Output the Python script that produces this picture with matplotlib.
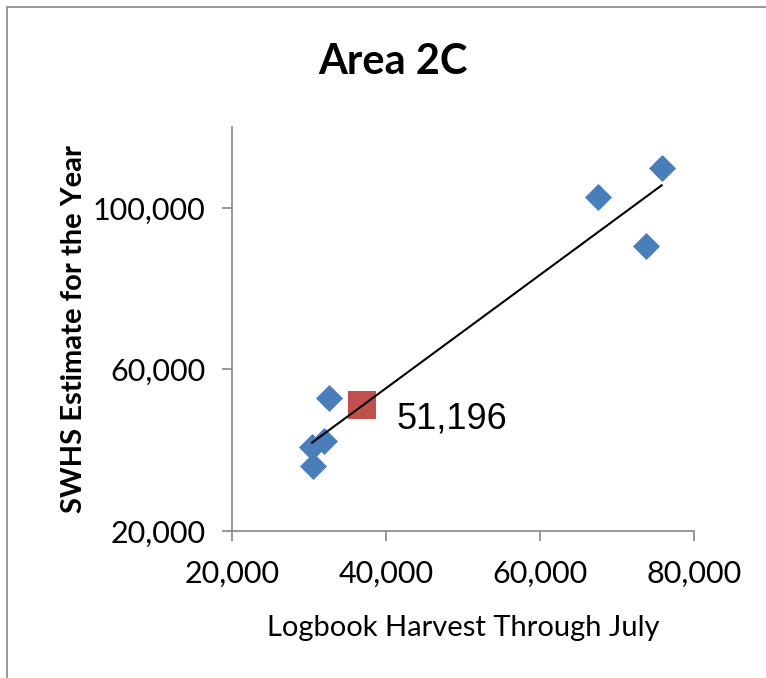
import matplotlib
matplotlib.use("Agg")
import matplotlib.pyplot as plt
import matplotlib.ticker as ticker
import numpy as np

# logbook harvest through July vs. SWHS estimate, Area 2C
harvest = [75800, 67500, 73800, 32600, 31900, 30400, 30500]
swhs = [109800, 102700, 90500, 52900, 42300, 40800, 36100]
predict_x = 36900
predict_y = 51196

fig = plt.figure(figsize=(7.66, 6.78), dpi=100)
ax = fig.add_axes([0.3029, 0.2168, 0.6031, 0.5959])

# outer chart border
fig.patches.append(plt.Rectangle((7 / 766, -0.1), 1.2, 1 - 7 / 678 + 0.1,
                                 transform=fig.transFigure, fill=False,
                                 edgecolor="#868686", linewidth=1.2))

ax.scatter(harvest, swhs, marker="D", s=190, color="#4A7EBB", zorder=3,
           linewidths=0)

slope, intercept = np.polyfit(harvest, swhs, 1)
xs = np.array([min(harvest), max(harvest)])
ax.plot(xs, slope * xs + intercept, color="black", linewidth=1.5, zorder=4)

ax.scatter([predict_x], [predict_y], marker="s", s=380, color="#C0504D",
           zorder=3, linewidths=0)
ax.annotate(f"{predict_y:,}", (predict_x, predict_y), xytext=(25, -10),
            textcoords="offset points", fontsize=26, family="Liberation Sans",
            va="center", ha="left")

ax.set_xlim(20000, 80000)
ax.set_ylim(20000, 120000)
ax.set_xticks([20000, 40000, 60000, 80000])
ax.set_yticks([20000, 60000, 100000])
fmt = ticker.FuncFormatter(lambda v, p: f"{int(v):,}")
ax.xaxis.set_major_formatter(fmt)
ax.yaxis.set_major_formatter(fmt)

for side in ["top", "right"]:
    ax.spines[side].set_visible(False)
for side in ["left", "bottom"]:
    ax.spines[side].set_color("#868686")
    ax.spines[side].set_linewidth(1.2)
ax.tick_params(direction="out", length=7, width=1.2, color="#868686",
               labelsize=22)
ax.tick_params(axis="x", pad=14)
ax.tick_params(axis="y", pad=12)
for lab in ax.get_xticklabels() + ax.get_yticklabels():
    lab.set_family("Lato")

ax.set_xlabel("Logbook Harvest Through July", family="Lato", fontsize=21,
              labelpad=19)
ax.set_ylabel("SWHS Estimate for the Year", family="Lato", fontsize=21,
              fontweight="bold", labelpad=4)
fig.text(0.513, 0.908, "Area 2C", family="Lato", fontsize=30,
         fontweight="bold", ha="center", va="center")

fig.savefig("out.png", dpi=100)
